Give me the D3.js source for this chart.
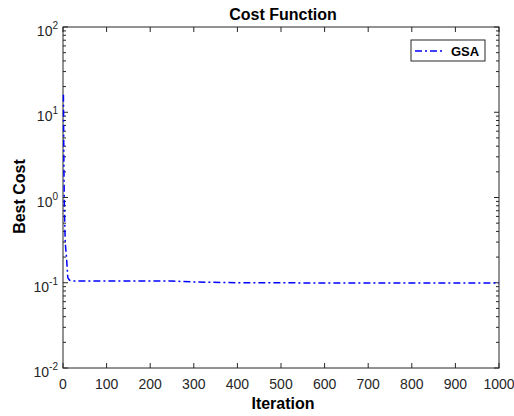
<!DOCTYPE html>
<html>
<head>
<meta charset="utf-8">
<script src="https://cdn.jsdelivr.net/npm/d3@7"></script>
<style>
  body { margin: 0; background: #fff; }
  text { font-family: "Liberation Sans", Arial, sans-serif; }
</style>
</head>
<body>
<svg width="514" height="416"></svg>
<script>
// Data
var iterations = [1, 2, 3, 4, 5, 6, 8, 11, 15, 20, 100, 250, 300, 400, 600, 1000];
var bestCost = [16, 2.5, 0.9, 0.5, 0.32, 0.26, 0.2, 0.115, 0.107, 0.105, 0.105, 0.1048, 0.102, 0.1, 0.0995, 0.099];
var xTicks = [0, 100, 200, 300, 400, 500, 600, 700, 800, 900, 1000];
var yExponents = [-2, -1, 0, 1, 2];

var svg = d3.select("svg");
// plot box edges ("top" is reserved by window, so use prefixed names)
var plotL = 63, plotR = 499, plotT = 27, plotB = 368;
var axisColor = "#262626";

var x = d3.scaleLinear().domain([0, 1000]).range([plotL, plotR]);
var y = d3.scaleLog().domain([0.01, 100]).range([plotB, plotT]);

// Plot box
svg.append("rect")
    .attr("x", plotL).attr("y", plotT)
    .attr("width", plotR - plotL).attr("height", plotB - plotT)
    .attr("fill", "#fff").attr("stroke", axisColor).attr("stroke-width", 1);

// Minor ticks on log axis
var minor = [];
yExponents.slice(0, -1).forEach(function(e) {
    for (var m = 2; m <= 9; m++) minor.push(m * Math.pow(10, e));
});

var g = svg.append("g").attr("stroke", axisColor).attr("stroke-width", 1);
minor.forEach(function(v) {
    g.append("line").attr("x1", plotL).attr("x2", plotL + 3).attr("y1", y(v)).attr("y2", y(v));
    g.append("line").attr("x1", plotR).attr("x2", plotR - 3).attr("y1", y(v)).attr("y2", y(v));
});
yExponents.forEach(function(e) {
    var v = Math.pow(10, e);
    g.append("line").attr("x1", plotL).attr("x2", plotL + 5).attr("y1", y(v)).attr("y2", y(v));
    g.append("line").attr("x1", plotR).attr("x2", plotR - 5).attr("y1", y(v)).attr("y2", y(v));
});
xTicks.forEach(function(t) {
    g.append("line").attr("x1", x(t)).attr("x2", x(t)).attr("y1", plotB).attr("y2", plotB - 5);
    g.append("line").attr("x1", x(t)).attr("x2", x(t)).attr("y1", plotT).attr("y2", plotT + 5);
});

// X tick labels
svg.selectAll(".xlab").data(xTicks).enter().append("text")
    .attr("x", function(d) { return x(d); })
    .attr("y", 389)
    .attr("text-anchor", "middle")
    .attr("font-size", 14)
    .attr("fill", axisColor)
    .text(function(d) { return d; });

// Y tick labels with superscript
yExponents.forEach(function(e) {
    var t = svg.append("text")
        .attr("x", 58).attr("y", y(Math.pow(10, e)) + 9)
        .attr("text-anchor", "end")
        .attr("font-size", 14)
        .attr("fill", axisColor);
    t.append("tspan").text("10");
    t.append("tspan").attr("dy", -7).attr("font-size", 10).text(e);
});

// Line
var line = d3.line()
    .x(function(d) { return x(d[0]); })
    .y(function(d) { return y(d[1]); });

svg.append("path")
    .datum(d3.zip(iterations, bestCost))
    .attr("d", line)
    .attr("fill", "none")
    .attr("stroke", "#0000ff")
    .attr("stroke-width", 1.5)
    .attr("stroke-dasharray", "7,3,2,3");

// Legend
svg.append("rect")
    .attr("x", 411).attr("y", 40).attr("width", 74).attr("height", 21)
    .attr("fill", "#fff").attr("stroke", axisColor).attr("stroke-width", 1);
svg.append("line")
    .attr("x1", 415).attr("x2", 442).attr("y1", 51).attr("y2", 51)
    .attr("stroke", "#0000ff").attr("stroke-width", 1.5)
    .attr("stroke-dasharray", "7,3,2,3");
svg.append("text")
    .attr("x", 451).attr("y", 56)
    .attr("font-size", 13).attr("font-weight", "bold")
    .text("GSA");

// Titles
svg.append("text")
    .attr("x", (plotL + plotR) / 2 + 2).attr("y", 20)
    .attr("text-anchor", "middle")
    .attr("font-size", 16).attr("font-weight", "bold")
    .text("Cost Function");

svg.append("text")
    .attr("x", (plotL + plotR) / 2 + 2).attr("y", 409)
    .attr("text-anchor", "middle")
    .attr("font-size", 16).attr("font-weight", "bold")
    .text("Iteration");

svg.append("text")
    .attr("transform", "translate(25," + ((plotT + plotB) / 2 - 1) + ") rotate(-90)")
    .attr("text-anchor", "middle")
    .attr("font-size", 16).attr("font-weight", "bold")
    .text("Best Cost");
</script>
</body>
</html>
